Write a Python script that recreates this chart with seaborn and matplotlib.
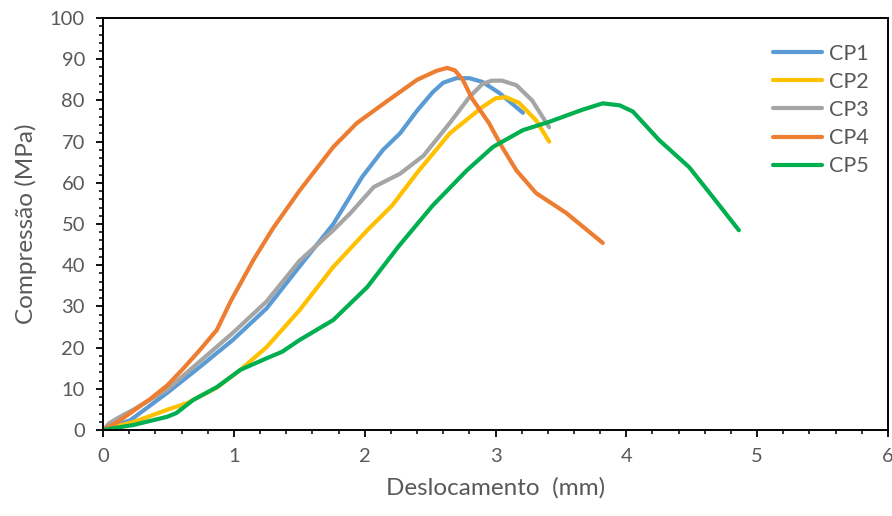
import numpy as np
import pandas as pd
import matplotlib
matplotlib.use("Agg")
import matplotlib.pyplot as plt
from matplotlib.ticker import MultipleLocator
import seaborn as sns

# ---- data ----
cp1_x = [0.0, 0.21, 0.49, 0.74, 0.99, 1.25, 1.50, 1.76, 1.98, 2.14, 2.27, 2.40, 2.52, 2.60, 2.70, 2.80, 2.90, 3.03, 3.21]
cp1_y = [0.0, 2.4, 9.0, 15.3, 21.8, 29.5, 39.6, 50.0, 61.4, 68.0, 72.0, 77.5, 82.0, 84.3, 85.4, 85.4, 84.5, 81.8, 77.0]

cp2_x = [0.0, 0.05, 0.23, 0.49, 0.64, 0.87, 1.05, 1.25, 1.50, 1.76, 2.02, 2.21, 2.40, 2.65, 2.90, 3.00, 3.08, 3.18, 3.31, 3.41]
cp2_y = [0.0, 0.5, 1.9, 4.9, 6.5, 10.3, 14.6, 20.1, 29.0, 39.6, 48.5, 54.5, 62.4, 72.0, 78.4, 80.5, 80.8, 79.4, 75.2, 70.0]

cp3_x = [0.0, 0.05, 0.13, 0.23, 0.49, 0.99, 1.25, 1.50, 1.76, 1.89, 2.07, 2.27, 2.45, 2.65, 2.80, 2.90, 2.97, 3.05, 3.16, 3.28, 3.41]
cp3_y = [0.0, 1.7, 3.2, 4.9, 9.8, 23.5, 31.2, 41.0, 48.5, 52.6, 59.0, 62.2, 66.6, 74.5, 80.8, 84.0, 84.8, 84.8, 83.7, 80.0, 73.5]

cp4_x = [0.0, 0.10, 0.23, 0.36, 0.49, 0.61, 0.74, 0.87, 0.98, 1.15, 1.30, 1.50, 1.76, 1.94, 2.17, 2.40, 2.55, 2.63, 2.69, 2.75, 2.82, 2.95, 3.05, 3.16, 3.31, 3.54, 3.82]
cp4_y = [0.0, 1.7, 4.6, 7.5, 10.8, 14.8, 19.4, 24.3, 31.5, 41.3, 49.0, 58.0, 68.7, 74.5, 79.8, 85.0, 87.2, 87.9, 87.3, 85.0, 80.5, 74.5, 68.7, 63.0, 57.5, 52.7, 45.4]

cp5_x = [0.0, 0.23, 0.49, 0.56, 0.69, 0.87, 1.05, 1.25, 1.37, 1.50, 1.76, 2.02, 2.26, 2.52, 2.78, 2.98, 3.21, 3.41, 3.66, 3.82, 3.95, 4.05, 4.25, 4.48, 4.66, 4.86]
cp5_y = [0.0, 1.2, 3.2, 4.1, 7.3, 10.4, 14.6, 17.4, 19.0, 21.8, 26.7, 34.7, 44.6, 54.5, 63.0, 68.7, 72.8, 74.8, 77.7, 79.3, 78.8, 77.3, 70.4, 63.8, 56.6, 48.5]

series_names = ["CP1", "CP2", "CP3", "CP4", "CP5"]
series_x = [cp1_x, cp2_x, cp3_x, cp4_x, cp5_x]
series_y = [cp1_y, cp2_y, cp3_y, cp4_y, cp5_y]
colors = ["#5B9BD5", "#FFC000", "#A5A5A5", "#ED7D31", "#00B050"]

x_label = "Deslocamento  (mm)"
y_label = "Compressão (MPa)"

# ---- build long-form table ----
frames = []
for name, xs, ys in zip(series_names, series_x, series_y):
    frames.append(pd.DataFrame({"x": xs, "y": ys, "serie": name}))
df = pd.concat(frames, ignore_index=True)

sns.set_theme(style="white")
plt.rcParams["font.family"] = ["Lato", "DejaVu Sans"]

fig = plt.figure(figsize=(8.92, 5.16), dpi=100)
ax = fig.add_axes([0.1155, 0.1667, 0.88, 0.7983])

sns.lineplot(data=df, x="x", y="y", hue="serie", hue_order=series_names,
             palette=colors, sort=False, estimator=None, units="serie",
             linewidth=3.0, ax=ax)
for ln in ax.get_lines():
    ln.set_solid_joinstyle("round")
    ln.set_solid_capstyle("round")

ax.set_xlim(0, 6)
ax.set_ylim(0, 100)
ax.xaxis.set_major_locator(MultipleLocator(1))
ax.xaxis.set_minor_locator(MultipleLocator(0.2))
ax.yaxis.set_major_locator(MultipleLocator(10))
ax.yaxis.set_minor_locator(MultipleLocator(2))

txt = "#595959"
ax.tick_params(which="major", direction="out", length=5, width=1.3, color="black",
               labelsize=14.5, labelcolor=txt, bottom=True, left=True, pad=8)
ax.tick_params(which="minor", direction="out", length=3, width=1.1, color="black",
               bottom=True, left=True)
for s in ax.spines.values():
    s.set_color("black")
    s.set_linewidth(1.4)

ax.set_xlabel(x_label, fontsize=17.5, color=txt, labelpad=9)
ax.set_ylabel(y_label, fontsize=17.5, color=txt, labelpad=9)

leg = ax.legend(loc="upper right", bbox_to_anchor=(1.0, 0.985), frameon=False,
                fontsize=15.5, handlelength=2.3, handletextpad=0.3, labelspacing=0.38)
for t in leg.get_texts():
    t.set_color(txt)

fig.savefig("out.png", dpi=100)
